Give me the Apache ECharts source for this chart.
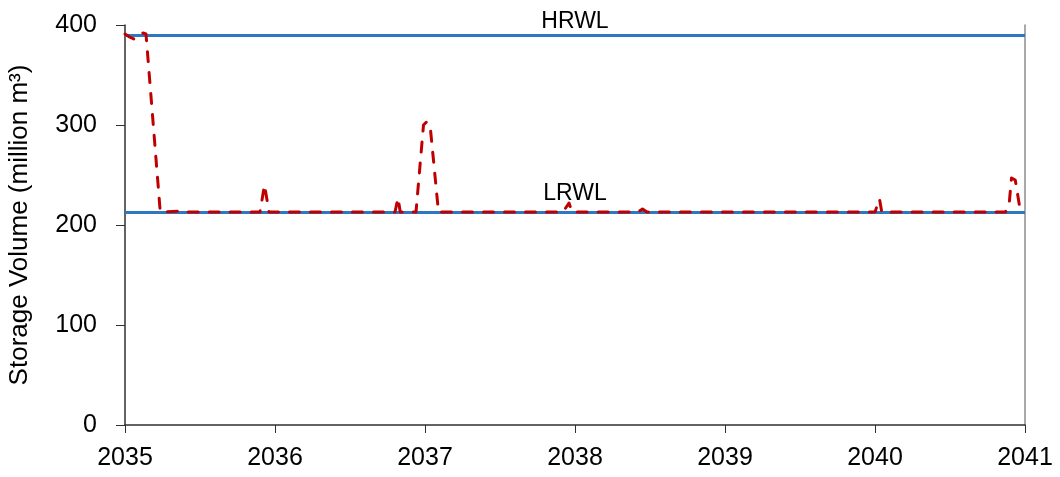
<!DOCTYPE html>
<html>
<head>
<meta charset="utf-8">
<script src="https://cdn.jsdelivr.net/npm/echarts@6/dist/echarts.min.js"></script>
<style>
  html, body { margin: 0; padding: 0; background: #fff; }
  #chart { width: 1060px; height: 477px; }
</style>
</head>
<body>
<div id="chart"></div>
<script>
// Reservoir storage simulation, 2035–2041 (decimal years)
const years = [
  2035.000, 2035.030, 2035.060, 2035.120, 2035.140, 2035.235,
  2035.400, 2035.420, 2035.900, 2035.930, 2035.960,
  2036.800, 2036.820, 2036.835, 2036.940, 2036.990, 2037.010, 2037.035, 2037.090,
  2037.920, 2037.960, 2037.980, 2038.420, 2038.450, 2038.480,
  2040.000, 2040.030, 2040.045, 2040.870, 2040.895, 2040.910, 2040.935, 2040.970
];
const storage = [
  391, 388, 386, 392, 391, 213,
  214, 213, 213, 240, 213,
  213, 227, 213, 213, 300, 303, 298, 213,
  213, 222, 213, 213, 216, 213,
  213, 226, 213, 213, 222, 247, 245, 213
];
// Operating limits (million m³)
const limitNames = ['HRWL', 'LRWL'];
const limitValues = [390, 213];
const yTicks = [0, 100, 200, 300, 400];
const xTicks = [2035, 2036, 2037, 2038, 2039, 2040, 2041];

const FONT = 'Liberation Sans';
const chart = echarts.init(document.getElementById('chart'));

chart.setOption({
  animation: false,
  grid: { left: 125, right: 35, top: 25, bottom: 52, containLabel: false, outerBoundsMode: 'none' },
  xAxis: {
    type: 'value',
    min: xTicks[0],
    max: xTicks[xTicks.length - 1],
    interval: 1,
    axisLine: { lineStyle: { color: '#303030', width: 1.5 } },
    axisTick: { show: true, length: 8, inside: false, lineStyle: { color: '#303030' } },
    axisLabel: { color: '#000', fontFamily: FONT, fontSize: 25, margin: 21, formatter: v => String(v) },
    splitLine: { show: false }
  },
  yAxis: [{
    type: 'value',
    min: yTicks[0],
    max: yTicks[yTicks.length - 1],
    interval: 100,
    name: 'Storage Volume (million m³)',
    nameLocation: 'middle',
    nameGap: 92,
    nameTextStyle: { color: '#000', fontFamily: FONT, fontSize: 26 },
    axisLine: { show: true, lineStyle: { color: '#303030', width: 1.5 } },
    axisTick: { show: true, length: 9, inside: false, lineStyle: { color: '#303030' } },
    axisLabel: { color: '#000', fontFamily: FONT, fontSize: 25, margin: 28 },
    splitLine: { show: false }
  }, {
    type: 'value',
    position: 'right',
    min: 0,
    max: 400,
    axisLine: { show: true, lineStyle: { color: '#8c8c8c', width: 1.5 } },
    axisTick: { show: false },
    axisLabel: { show: false },
    splitLine: { show: false }
  }],
  series: [
    {
      name: 'Limits',
      type: 'line',
      data: [],
      markLine: {
        silent: true,
        symbol: 'none',
        lineStyle: { color: '#2E78C0', width: 3, type: 'solid' },
        data: limitNames.map((n, i) => ({
          name: n,
          yAxis: limitValues[i],
          label: {
            show: true,
            formatter: n,
            position: 'insideMiddleTop',
            distance: i === 0 ? 2 : 7,
            color: '#000',
            fontFamily: FONT,
            fontSize: 23
          }
        }))
      }
    },
    {
      name: 'Storage',
      type: 'line',
      data: years.map((y, i) => [y, storage[i]]),
      showSymbol: false,
      symbol: 'none',
      z: 5,
      lineStyle: { color: '#C00000', width: 3, type: [10, 11], cap: 'round', join: 'round' }
    }
  ]
});
</script>
</body>
</html>
